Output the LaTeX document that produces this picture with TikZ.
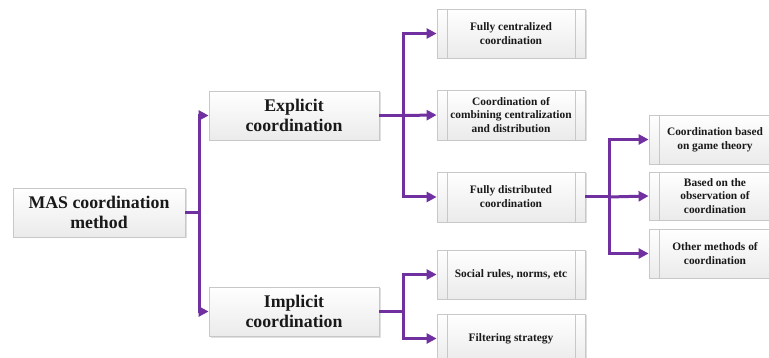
\documentclass[tikz,border=0pt]{standalone}
\usepackage{fontspec}
\setmainfont{Liberation Serif}
\usetikzlibrary{arrows.meta,shadows}
\definecolor{linkpurple}{RGB}{112,48,160}
\definecolor{boxedge}{RGB}{200,200,200}
\definecolor{boxtext}{RGB}{25,25,25}

\tikzset{
  basebox/.style={draw=boxedge, line width=0.8pt, top color=white, bottom color=gray!16,
    drop shadow={opacity=0.25, shadow xshift=1.5pt, shadow yshift=-1.5pt},
    align=center, text=boxtext, inner sep=0pt},
  mainbox/.style={basebox, minimum width=170pt, minimum height=49pt,
    font=\bfseries\fontsize{17.8}{20.5}\selectfont},
  leafbox/.style={basebox, minimum width=148pt, minimum height=49pt,
    font=\bfseries\fontsize{11.4}{13.8}\selectfont,
    path picture={\draw[boxedge, line width=0.8pt]
      ([xshift=10pt]path picture bounding box.north west) -- ([xshift=10pt]path picture bounding box.south west)
      ([xshift=-10pt]path picture bounding box.north east) -- ([xshift=-10pt]path picture bounding box.south east);}},
  sidebox/.style={leafbox, minimum width=132pt},
  link/.style={draw=linkpurple, line width=3pt},
  arr/.style={link, -{Triangle[length=10pt,width=10pt]}},
}

\begin{document}
\begin{tikzpicture}[x=1pt, y=-1pt]
  \useasboundingbox (0,0) rectangle (769,358);
  \clip (0,0) rectangle (769,358);

  % root and first level
  \node[mainbox, minimum width=172pt] (mas) at (99,212.5) {MAS coordination\\method};
  \node[mainbox] (exp) at (294,115.5) {Explicit\\coordination};
  \node[mainbox] (imp) at (294,311.5) {Implicit\\coordination};

  % explicit branches
  \node[leafbox] (fc) at (511,33.5) {Fully centralized\\coordination};
  \node[leafbox, minimum height=50pt] (cc) at (511,115) {Coordination of\\combining centralization\\and distribution};
  \node[leafbox, minimum height=50pt] (fd) at (511,197) {Fully distributed\\coordination};

  % distributed branches
  \node[sidebox] (gt) at (715,139.5) {Coordination based\\on game theory};
  \node[sidebox, minimum height=48pt] (ob) at (715,196) {Based on the\\observation of\\coordination};
  \node[sidebox] (ot) at (715,253.5) {Other methods of\\coordination};

  % implicit branches
  \node[leafbox] (sr) at (511,274.5) {Social rules, norms, etc};
  \node[leafbox] (fs) at (511,338.5) {Filtering strategy};

  % junction points
  \coordinate (j1) at (199,213);
  \coordinate (j2) at (403,115.5);
  \coordinate (j3) at (609,197);
  \coordinate (j4) at (403,311.5);

  % connectors
  \draw[link] (mas.east |- j1) -- (j1);
  \draw[arr] (j1) |- (exp.west);
  \draw[arr] (j1) |- (imp.west);

  \draw[link] (exp.east |- j2) -- (j2);
  \draw[arr] (j2) |- (fc.west);
  \draw[arr] (j2) -- (cc.west);
  \draw[arr] (j2) |- (fd.west);

  \draw[link] (fd.east |- j3) -- (j3);
  \draw[arr] (j3) |- (gt.west);
  \draw[arr] (j3) -- (ob.west);
  \draw[arr] (j3) |- (ot.west);

  \draw[link] (imp.east |- j4) -- (j4);
  \draw[arr] (j4) |- (sr.west);
  \draw[arr] (j4) |- (fs.west);
\end{tikzpicture}
\end{document}
